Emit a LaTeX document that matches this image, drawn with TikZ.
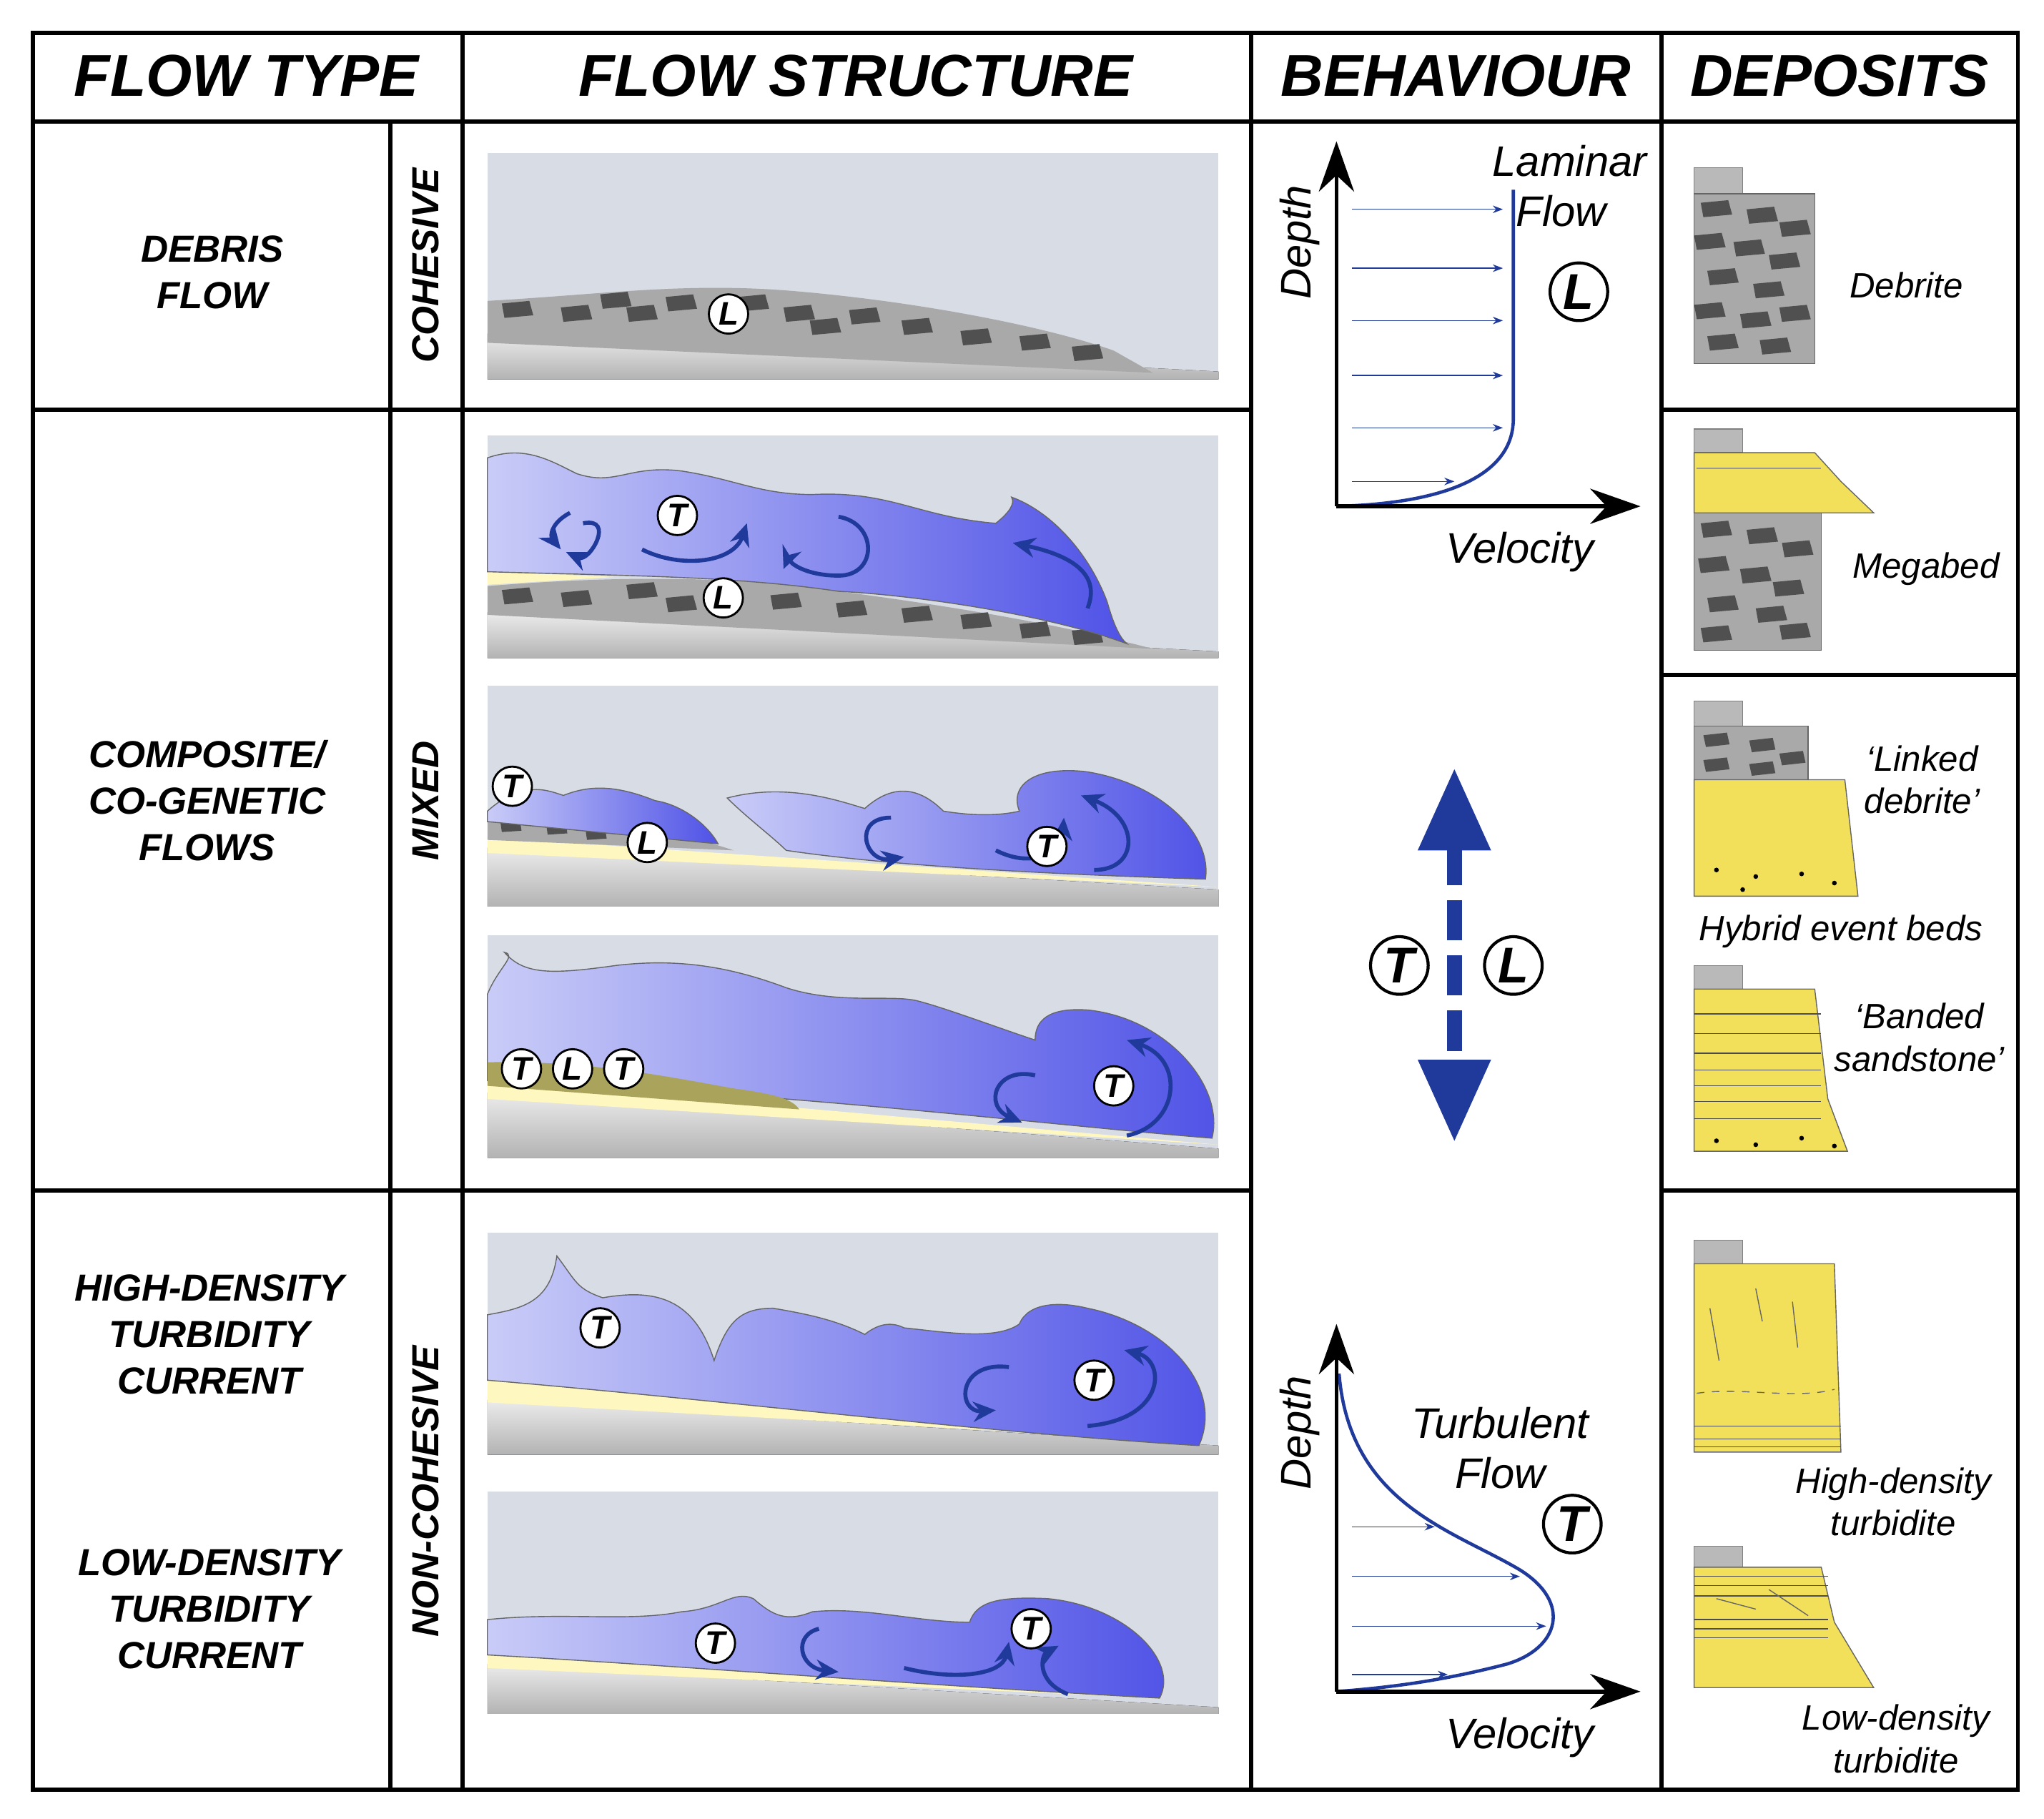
\documentclass[tikz,border=0pt]{standalone}
\usepackage{fontspec}
\setmainfont{Liberation Sans}
\usetikzlibrary{arrows.meta,shapes.geometric}
\definecolor{panel}{HTML}{D8DCE5}
\definecolor{flowL}{HTML}{C9CCF7}
\definecolor{flowR}{HTML}{4F52E6}
\definecolor{arr}{HTML}{1F3A9A}
\definecolor{deb}{HTML}{A9A9A9}
\definecolor{clast}{HTML}{505050}
\definecolor{sand}{HTML}{FFF7C0}
\definecolor{ysand}{HTML}{F2DF5A}
\definecolor{olive}{HTML}{A9A35C}
\begin{document}
\begin{tikzpicture}[x=0.018327cm,y=-0.018288cm,
  hdr/.style={font=\fontsize{23.5}{24}\selectfont\bfseries\itshape},
  lab/.style={font=\fontsize{15}{18.5}\selectfont\bfseries\itshape,align=center},
  dlab/.style={font=\fontsize{14}{17}\selectfont\itshape,align=center},
  cl/.style={circle,draw,thick,fill=white,inner sep=0.8pt,minimum size=30*0.018327cm,font=\fontsize{13}{13}\selectfont\bfseries\itshape},
  bcl/.style={circle,draw,very thick,fill=white,inner sep=0.8pt,minimum size=44*0.018327cm,font=\fontsize{20}{20}\selectfont\bfseries\itshape},
  flow/.style={draw=black!60,thin,left color=flowL,right color=flowR},
  fa/.style={arr,line width=1.6pt,-{Stealth[length=9pt,width=8pt]}},
  sub/.style={top color=gray!15,bottom color=gray!60},
  ax/.style={line width=1.6pt,-{Stealth[length=20pt,width=14pt]}},
  va/.style={arr,thin,-{Stealth[length=4pt]}},
  logcap/.style={fill=gray!55,draw=black!50,thin}]
\useasboundingbox (0,0) rectangle (1560,1390);
\fill[white] (0,0) rectangle (1560,1390);
% ---------- panels ----------
\foreach \a/\b in {117/290,333/503,524/693,715/885,942/1112,1140/1310}
  \fill[panel] (372,\a) rectangle (930,\b);
% panel 1 debris
\fill[sub] (372,255)--(930,284)--(930,290)--(372,290)--cycle;
\fill[deb] (372,230) .. controls (460,225) and (520,216) .. (600,222) .. controls (700,230) and (800,250) .. (850,268) -- (880,285) -- (372,262)--cycle;
\foreach \x/\y in {395/237,440/240,490/240,520/232,575/232,610/240,660/242,700/250,745/258,790/262,830/270,470/230,630/250}
  \fill[clast] (\x-12,\y-5)--(\x+9,\y-7)--(\x+12,\y+4)--(\x-10,\y+6)--cycle;
\node[cl] (L1) at (556,240) {L};
% panel 2
\fill[sub] (372,468)--(930,498)--(930,503)--(372,503)--cycle;
\fill[sand] (372,437)--(470,441)--(372,447)--cycle;
\fill[deb] (372,448) .. controls (470,440) and (560,440) .. (640,452) .. controls (740,465) and (820,480) .. (880,496) -- (372,470)--cycle;
\foreach \x/\y in {395/456,440/458,490/452,520/462,600/460,650/466,700/470,745/475,790/482,830/487}
  \fill[clast] (\x-12,\y-5)--(\x+9,\y-7)--(\x+12,\y+4)--(\x-10,\y+6)--cycle;
\path[flow] (372,350) .. controls (400,340) and (420,352) .. (440,362) .. controls (470,372) and (480,355) .. (520,360) .. controls (560,366) and (580,378) .. (620,378) .. controls (680,375) and (700,395) .. (760,400) .. controls (770,392) and (775,385) .. (772,380) .. controls (800,390) and (830,420) .. (845,460) .. controls (850,478) and (855,488) .. (860,492) .. controls (800,470) and (700,455) .. (640,452) .. controls (560,440) and (470,440) .. (372,437) -- cycle;
\draw[fa] (445,400) .. controls (470,395) and (450,430) .. (432,422);
\draw[fa] (435,392) .. controls (420,400) and (420,410) .. (428,420);
\draw[fa] (490,420) .. controls (520,435) and (560,430) .. (570,400);
\draw[fa] (640,395) .. controls (670,400) and (670,440) .. (640,440) .. controls (615,440) and (600,430) .. (598,435);
\draw[fa] (830,465) .. controls (840,440) and (820,425) .. (773,415);
\node[cl] (T2) at (517,394) {T};
\node[cl] (L2) at (552,457) {L};
% panel 3
\fill[sub] (372,648)--(930,680)--(930,693)--(372,693)--cycle;
\fill[sand] (372,640)--(930,678)--(372,652)--cycle;
\fill[deb] (372,625) .. controls (420,622) and (500,630) .. (560,650) -- (372,642)--cycle;
\foreach \x/\y in {390/632,425/634,455/638}
  \fill[clast] (\x-8,\y-3)--(\x+7,\y-4)--(\x+8,\y+3)--(\x-7,\y+4)--cycle;
\path[flow] (372,620) .. controls (400,595) and (420,605) .. (430,608) .. controls (450,600) and (470,600) .. (500,612) .. controls (520,615) and (540,630) .. (548,645) -- (372,628)--cycle;
\path[flow] (555,610) .. controls (600,598) and (640,612) .. (660,618) .. controls (680,600) and (700,600) .. (720,620) .. controls (750,625) and (770,622) .. (778,620) .. controls (770,600) and (790,585) .. (830,590) .. controls (890,600) and (925,640) .. (920,672) .. controls (860,670) and (700,665) .. (600,650) .. controls (590,640) and (570,625) .. (555,610) --cycle;
\draw[fa] (680,625) .. controls (650,625) and (660,660) .. (690,655);
\draw[fa] (760,650) .. controls (790,665) and (810,650) .. (812,625);
\draw[fa] (835,665) .. controls (870,665) and (870,625) .. (825,608);
\node[cl] (T3a) at (391,601) {T};
\node[cl] (L3) at (494,644) {L};
\node[cl] (T3b) at (799,647) {T};
% panel 4
\fill[sub] (372,835)--(930,878)--(930,885)--(372,885)--cycle;
\fill[sand] (372,826)--(930,875)--(372,840)--cycle;
\path[flow] (372,760) .. controls (380,740) and (395,730) .. (385,728) .. controls (400,745) and (420,745) .. (470,738) .. controls (520,732) and (560,740) .. (600,755) .. controls (640,768) and (680,760) .. (700,765) .. controls (720,770) and (760,785) .. (790,795) .. controls (790,780) and (800,770) .. (830,772) .. controls (890,778) and (935,830) .. (925,870) .. controls (800,860) and (600,835) .. (372,826)--cycle;
\fill[olive] (372,812) .. controls (450,810) and (520,825) .. (560,832) .. controls (590,836) and (605,840) .. (610,848) -- (372,830)--cycle;
\draw[fa] (790,822) .. controls (760,815) and (750,845) .. (780,858);
\draw[fa] (860,868) .. controls (900,860) and (905,810) .. (860,795);
\node[cl] (T4a) at (398,817) {T};
\node[cl] (L4) at (437,817) {L};
\node[cl] (T4b) at (476,817) {T};
\node[cl] (T4c) at (850,830) {T};
% panel 5
\fill[sub] (372,1070)--(930,1105)--(930,1112)--(372,1112)--cycle;
\fill[sand] (372,1055)--(915,1102)--(372,1072)--cycle;
\path[flow] (372,1005) .. controls (400,1000) and (420,995) .. (425,960) .. controls (440,980) and (440,985) .. (460,992) .. controls (500,985) and (530,992) .. (545,1040) .. controls (555,1010) and (565,1000) .. (590,1000) .. controls (620,1005) and (640,1010) .. (660,1020) .. controls (670,1012) and (680,1010) .. (690,1015) .. controls (720,1018) and (760,1025) .. (778,1012) .. controls (785,995) and (810,995) .. (830,1000) .. controls (890,1012) and (935,1060) .. (915,1105) .. controls (750,1095) and (550,1070) .. (372,1055)--cycle;
\draw[fa] (770,1045) .. controls (730,1040) and (730,1080) .. (760,1078);
\draw[fa] (830,1090) .. controls (890,1085) and (890,1040) .. (858,1032);
\node[cl] (T5a) at (458,1015) {T};
\node[cl] (T5b) at (835,1055) {T};
% panel 6
\fill[sub] (372,1272)--(930,1305)--(930,1310)--(372,1310)--cycle;
\fill[sand] (372,1265)--(885,1298)--(372,1275)--cycle;
\path[flow] (372,1238) .. controls (430,1232) and (480,1240) .. (520,1232) .. controls (550,1230) and (560,1215) .. (575,1222) .. controls (590,1235) and (600,1240) .. (620,1232) .. controls (660,1228) and (700,1240) .. (740,1240) .. controls (745,1225) and (760,1220) .. (800,1222) .. controls (860,1228) and (900,1270) .. (885,1298) .. controls (700,1288) and (500,1272) .. (372,1265)--cycle;
\draw[fa] (625,1245) .. controls (605,1250) and (610,1275) .. (640,1278);
\draw[fa] (690,1275) .. controls (730,1285) and (765,1280) .. (770,1255);
\draw[fa] (815,1295) .. controls (790,1285) and (795,1265) .. (808,1258);
\node[cl] (T6a) at (546,1256) {T};
\node[cl] (T6b) at (787,1245) {T};
% ---------- grid ----------
\draw[line width=1.6pt] (25,25) rectangle (1540,1368);
\draw[line width=1.6pt] (25,93)--(1540,93);
\foreach \x in {353,955,1268} \draw[line width=1.6pt] (\x,25)--(\x,1368);
\draw[line width=1.6pt] (298,93)--(298,1368);
\draw[line width=1.6pt] (25,313)--(955,313) (25,910)--(955,910);
\draw[line width=1.6pt] (1268,313)--(1540,313) (1268,516)--(1540,516) (1268,910)--(1540,910);
% headers
\node[hdr] (h1) at (188,58) {FLOW TYPE};
\node[hdr] (h2) at (653,58) {FLOW STRUCTURE};
\node[hdr] (h3) at (1111,58) {BEHAVIOUR};
\node[hdr] (h4) at (1404,58) {DEPOSITS};
\node[lab] (f1) at (162,208) {DEBRIS\\FLOW};
\node[lab] (f2) at (158,612) {COMPOSITE/\\CO-GENETIC\\FLOWS};
\node[lab] (f3) at (160,1020) {HIGH-DENSITY\\TURBIDITY\\CURRENT};
\node[lab] (f4) at (160,1230) {LOW-DENSITY\\TURBIDITY\\CURRENT};
\node[lab,rotate=90] (c1) at (325,203) {COHESIVE};
\node[lab,rotate=90] (c2) at (325,612) {MIXED};
\node[lab,rotate=90] (c3) at (325,1140) {NON-COHESIVE};
% ---------- behaviour ----------
\coordinate (o1) at (1020,387); \coordinate (y1) at (1020,108); \coordinate (x1) at (1252,387);
\foreach \y/\e in {160/1147,205/1147,245/1147,287/1147,327/1147,368/1110}
  \draw[va] (1032,\y)--(\e,\y);
\draw[arr,line width=1.3pt] (o1) .. controls (1100,385) and (1155,365) .. (1155,320) -- (1155,145);
\draw[ax] (o1)--(y1); \draw[ax] (o1)--(x1);
\node[dlab,font=\fontsize{17}{17}\selectfont\itshape,rotate=90] (d1) at (992,185) {Depth};
\node[dlab,font=\fontsize{17}{20}\selectfont\itshape,align=left] (lf) at (1198,142) {Laminar\\\ \ Flow};
\node[bcl] (Lb) at (1205,223) {L};
\node[dlab,font=\fontsize{17}{17}\selectfont\itshape] (v1) at (1160,422) {Velocity};
\coordinate (o2) at (1020,1293); \coordinate (y2) at (1020,1012); \coordinate (x2) at (1252,1293);
\foreach \y/\e in {1167/1095,1205/1160,1243/1180,1280/1105}
  \draw[va] (1032,\y)--(\e,\y);
\draw[arr,line width=1.3pt] (1022,1050) .. controls (1030,1150) and (1110,1170) .. (1160,1200) .. controls (1200,1225) and (1190,1260) .. (1150,1272) .. controls (1100,1285) and (1060,1290) .. (o2);
\draw[ax] (o2)--(y2); \draw[ax] (o2)--(x2);
\node[dlab,font=\fontsize{17}{17}\selectfont\itshape,rotate=90] (d2) at (992,1095) {Depth};
\node[dlab,font=\fontsize{17}{20}\selectfont\itshape] (tf) at (1145,1107) {Turbulent\\Flow};
\node[bcl] (Tb) at (1200,1165) {T};
\node[dlab,font=\fontsize{17}{17}\selectfont\itshape] (v2) at (1160,1328) {Velocity};
\coordinate (m1) at (1110,588); \coordinate (m2) at (1110,872);
\draw[arr,line width=6pt,dash pattern=on 16pt off 6pt,shorten <=30pt,shorten >=30pt] (m1)--(m2);
\fill[arr] (m1)--(1138,650)--(1082,650)--cycle;
\fill[arr] (m2)--(1138,810)--(1082,810)--cycle;
\node[bcl] (Tm) at (1068,738) {T};
\node[bcl] (Lm) at (1155,738) {L};
% ---------- deposits ----------
\draw[logcap] (1293,128) rectangle (1330,148);
\fill[deb,draw=black!60] (1293,148) rectangle (1385,278);
\foreach \x/\y in {1310/160,1345/165,1370/175,1305/185,1335/190,1362/200,1315/212,1350/222,1305/238,1340/245,1370/240,1315/262,1355/265}
  \fill[clast] (\x-12,\y-5)--(\x+9,\y-7)--(\x+12,\y+4)--(\x-10,\y+6)--cycle;
\node[dlab] (t1) at (1455,218) {Debrite};
\draw[logcap] (1293,328) rectangle (1330,346);
\fill[deb,draw=black!60] (1293,392) rectangle (1390,497);
\foreach \x/\y in {1310/405,1345/410,1372/420,1308/432,1340/440,1365/450,1315/462,1352/470,1310/485,1370/483}
  \fill[clast] (\x-12,\y-5)--(\x+9,\y-7)--(\x+12,\y+4)--(\x-10,\y+6)--cycle;
\fill[ysand,draw=black!60] (1293,346)--(1385,346)--(1405,368)--(1430,392)--(1293,392)--cycle;
\draw[black!40] (1295,358)--(1390,358);
\node[dlab] (t2) at (1470,435) {Megabed};
\draw[logcap] (1293,536) rectangle (1330,555);
\fill[deb,draw=black!60] (1293,555) rectangle (1380,596);
\foreach \x/\y in {1310/566,1345/570,1368/580,1310/585,1345/588}
  \fill[clast] (\x-10,\y-4)--(\x+8,\y-6)--(\x+10,\y+3)--(\x-8,\y+5)--cycle;
\fill[ysand,draw=black!60] (1293,596)--(1408,596)--(1418,685)--(1293,685)--cycle;
\foreach \x/\y in {1310/665,1340/670,1375/668,1400/675,1330/680} \fill (\x,\y) circle (1.8);
\node[dlab] (t3) at (1467,596) {`Linked\\debrite'};
\node[dlab] (t4) at (1405,712) {Hybrid event beds};
\draw[logcap] (1293,738) rectangle (1330,756);
\fill[ysand,draw=black!60] (1293,756)--(1385,756)--(1395,840)--(1410,880)--(1293,880)--cycle;
\foreach \y in {775,790,805,818,830,842,855} \draw[black!70] (1293,\y)--(1390,\y);
\foreach \x/\y in {1310/872,1340/875,1375/870,1400/876} \fill (\x,\y) circle (1.8);
\node[dlab] (t5) at (1465,793) {`Banded\\sandstone'};
\draw[logcap] (1293,948) rectangle (1330,966);
\fill[ysand,draw=black!60] (1293,966)--(1400,966)--(1405,1110)--(1293,1110)--cycle;
\foreach \y in {1090,1100,1106} \draw[black!70] (1293,\y)--(1405,\y);
\draw[black!60] (1305,1000)--(1312,1040) (1340,985)--(1345,1010) (1368,995)--(1372,1030);
\draw[black!60,dashed] (1295,1065) .. controls (1330,1060) and (1370,1070) .. (1400,1062);
\node[dlab] (t6) at (1445,1148) {High-density\\turbidite};
\draw[logcap] (1293,1182) rectangle (1330,1198);
\fill[ysand,draw=black!60] (1293,1198)--(1390,1198)--(1400,1240)--(1430,1290)--(1293,1290)--cycle;
\foreach \y in {1205,1212,1220,1238,1245,1252} \draw[black!70] (1293,\y)--(1395,\y);
\draw[black!60] (1310,1222)--(1340,1230) (1350,1215)--(1380,1235);
\node[dlab] (t7) at (1447,1329) {Low-density\\turbidite};
\end{tikzpicture}
\end{document}
